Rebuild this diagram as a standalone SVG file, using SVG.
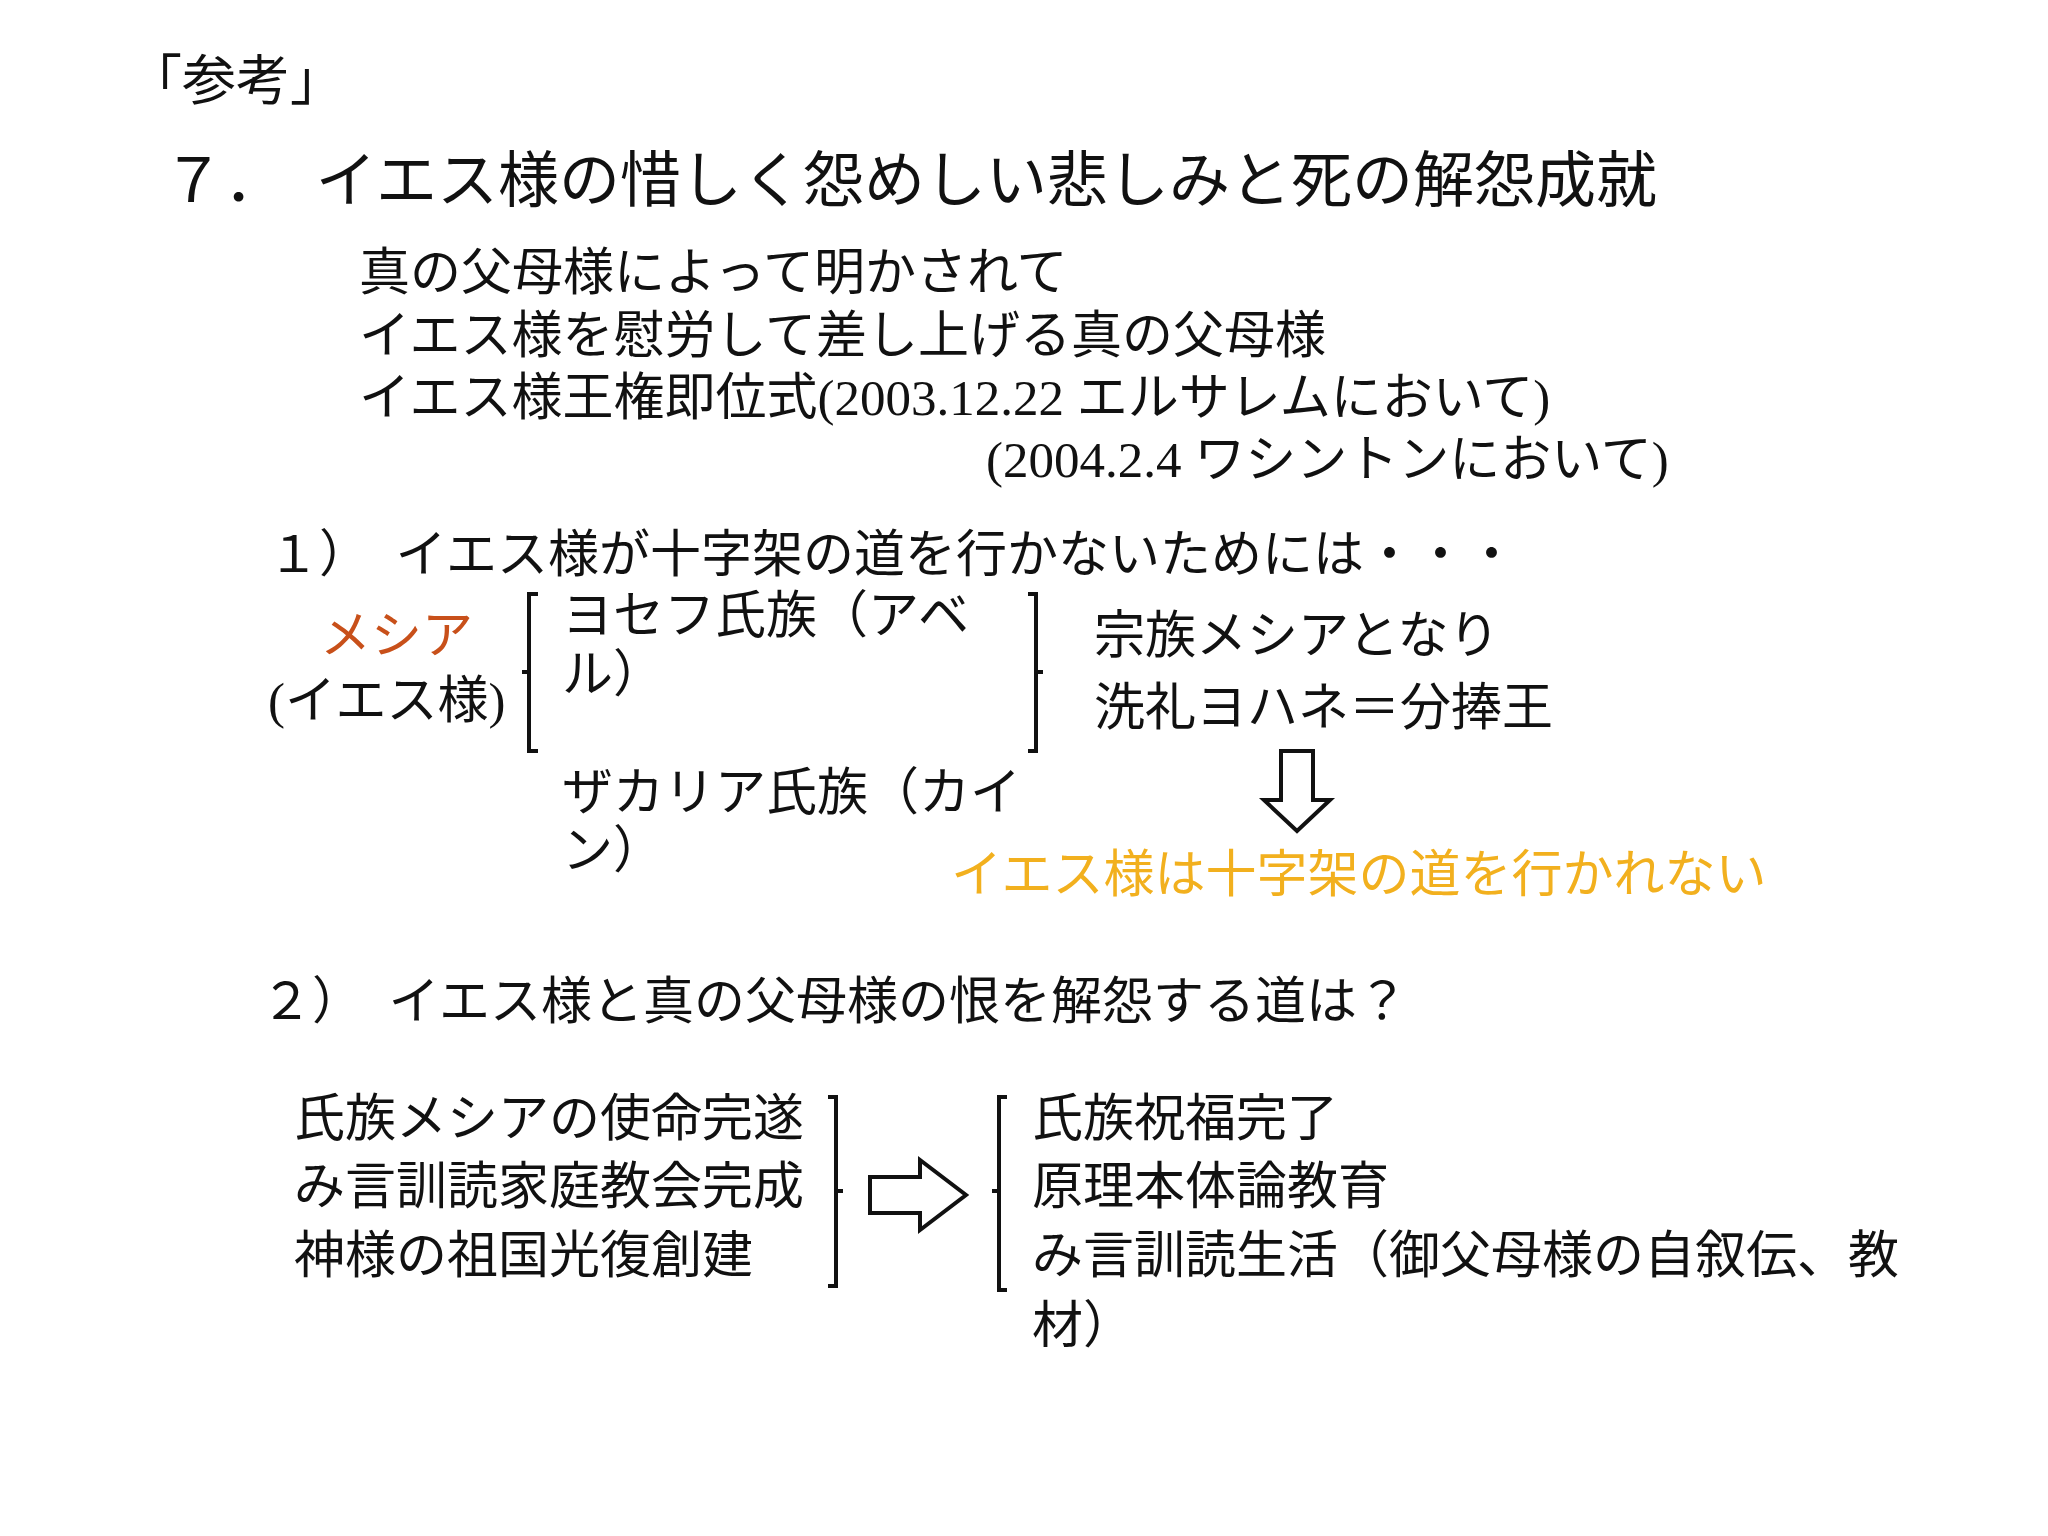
<svg xmlns="http://www.w3.org/2000/svg" width="2048" height="1536" viewBox="0 0 2048 1536">
<style>
text{font-family:"Liberation Serif","Noto Sans CJK JP",serif;font-size:51px;fill:#111}
.t{font-size:61px}
.br{fill:none;stroke:#111;stroke-width:4}
.ar{fill:#fff;stroke:#111;stroke-width:4;stroke-linejoin:miter}
</style>
<rect width="2048" height="1536" fill="#fff"/>
<g id="header">
<text x="128" y="100" style="font-size:54px">「参考」</text>
<text class="t" x="163" y="202">７．　イエス様の惜しく怨めしい悲しみと死の解怨成就</text>
<text x="359" y="290">真の父母様によって明かされて</text>
<text x="359" y="353">イエス様を慰労して差し上げる真の父母様</text>
<text x="359" y="415">イエス様王権即位式(2003.12.22 エルサレムにおいて)</text>
<text x="986" y="477">(2004.2.4 ワシントンにおいて)</text>
</g>
<g id="section1">
<text x="268" y="572">１）　イエス様が十字架の道を行かないためには・・・</text>
<g id="messiah"><text x="320" y="653" style="fill:#c8501a">メシア</text><text x="268" y="718">(イエス様)</text></g>
<g id="joseph"><text x="562" y="633">ヨセフ氏族（アベ</text><text x="562" y="692">ル）</text></g>
<g id="zacharia"><text x="562" y="810">ザカリア氏族（カイ</text><text x="562" y="868">ン）</text></g>
<g id="result"><text x="1094" y="653">宗族メシアとなり</text><text x="1094" y="725">洗礼ヨハネ＝分捧王</text></g>
<g id="conclusion"><text x="951" y="892" style="fill:#f2b01e">イエス様は十字架の道を行かれない</text></g>
</g>
<g id="section2">
<text x="261" y="1019">２）　イエス様と真の父母様の恨を解怨する道は？</text>
<g id="left-list"><text x="294" y="1136">氏族メシアの使命完遂</text><text x="294" y="1204">み言訓読家庭教会完成</text><text x="294" y="1273">神様の祖国光復創建</text></g>
<g id="right-list"><text x="1032" y="1136">氏族祝福完了</text><text x="1032" y="1204">原理本体論教育</text><text x="1032" y="1273">み言訓読生活（御父母様の自叙伝、教</text><text x="1032" y="1343">材）</text></g>
</g>
<g id="connectors">
<path class="br" d="M538 594 H529 V751 H538 M529 672 H522"/>
<path class="br" d="M1028 594 H1036 V751 H1028 M1036 672 H1043"/>
<path class="ar" d="M1281 751 H1313 V800 H1330 L1297 831 L1264 800 H1281 Z"/>
<path class="br" d="M828 1097 H836 V1286 H828 M836 1191 H843"/>
<path class="ar" d="M870 1177 H920 V1160 L966 1195 L920 1230 V1213 H870 Z"/>
<path class="br" d="M1007 1097 H999 V1290 H1007 M999 1191 H992"/>
</g>
</svg>
